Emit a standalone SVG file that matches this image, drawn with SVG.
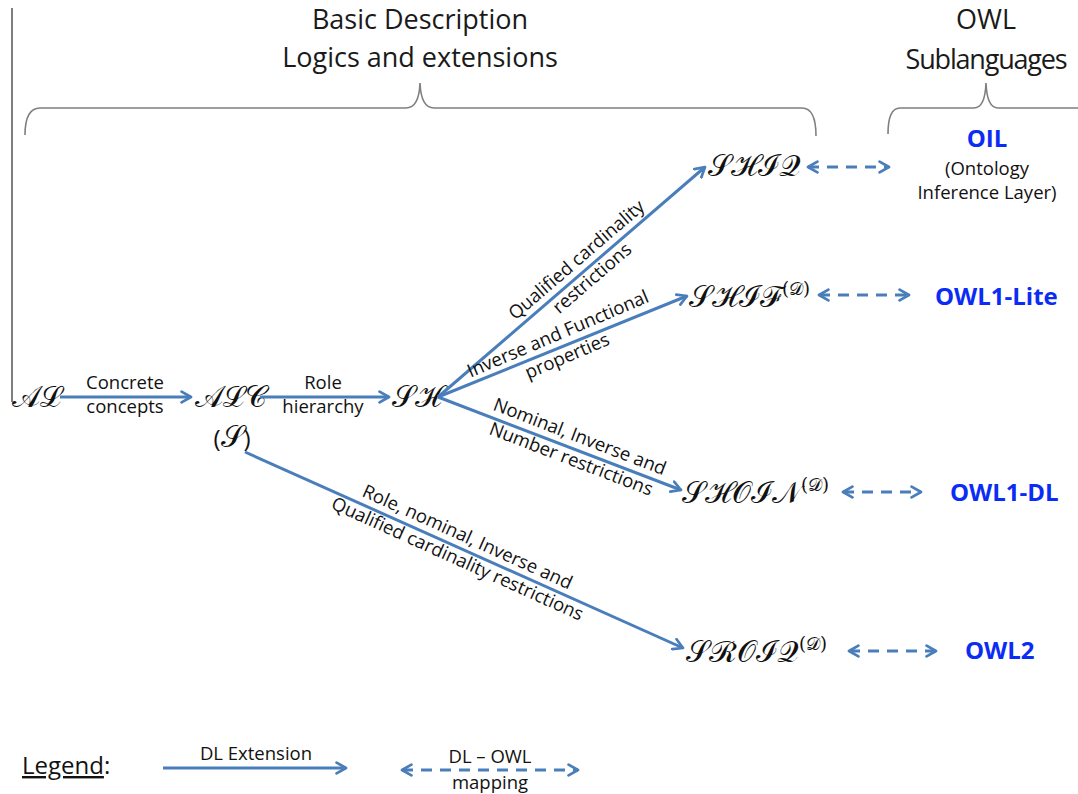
<svg xmlns="http://www.w3.org/2000/svg" width="1078" height="794" viewBox="0 0 1078 794">
  <style>
    .title { font-family: "Open Sans", "Liberation Sans", sans-serif; font-size: 27px; fill: #1a1a1a; text-anchor: middle; }
    .lbl { font-family: "Open Sans", "Liberation Sans", sans-serif; font-size: 18.5px; fill: #111; text-anchor: middle; }
    .owl { font-family: "Open Sans", "Liberation Sans", sans-serif; font-weight: bold; font-size: 24px; fill: #0a2cf5; }
    .dl { font-family: "DejaVu Serif", "Liberation Serif", serif; font-size: 30px; fill: #111; }
    .sup { font-size: 18px; }
    .brace { fill: none; stroke: #7f7f7f; stroke-width: 1.6; }
    .ext { fill: none; stroke: #4a7ebb; stroke-width: 3; marker-end: url(#head); }
    .map { fill: none; stroke: #4a7ebb; stroke-width: 3; stroke-dasharray: 11 8; marker-start: url(#tail); marker-end: url(#head); }
  </style>
  <defs>
    <marker id="head" viewBox="0 0 10 10" refX="8" refY="5" markerWidth="4.5" markerHeight="4.5" orient="auto" markerUnits="strokeWidth">
      <path d="M1,1 L8,5 L1,9" fill="none" stroke="#4a7ebb" stroke-width="2" stroke-linecap="round" stroke-linejoin="round"/>
    </marker>
    <marker id="tail" viewBox="0 0 10 10" refX="2" refY="5" markerWidth="4.5" markerHeight="4.5" orient="auto" markerUnits="strokeWidth">
      <path d="M9,1 L2,5 L9,9" fill="none" stroke="#4a7ebb" stroke-width="2" stroke-linecap="round" stroke-linejoin="round"/>
    </marker>
  </defs>

  <!-- headings and braces -->
  <g id="headings">
    <line x1="12" y1="8" x2="12" y2="402" stroke="#7f7f7f" stroke-width="2"/>
    <text class="title" x="420" y="29">Basic Description</text>
    <text class="title" x="420" y="67">Logics and extensions</text>
    <text class="title" x="986" y="29">OWL</text>
    <text class="title" x="986" y="69" letter-spacing="-1.2">Sublanguages</text>
    <path class="brace" d="M25,135 Q25,108 40,108 L406,108 Q419,108 420,83 Q421,108 434,108 L802,108 Q816,108 816,136"/>
    <path class="brace" d="M888,134 Q888,108 900,108 L974,108 Q985,108 986,83 Q987,108 998,108 L1078,108"/>
  </g>

  <!-- description logic nodes -->
  <g id="AL"><text class="dl" x="12" y="407">𝒜ℒ</text></g>
  <g id="ALC">
    <text class="dl" x="195" y="407">𝒜ℒ𝒞</text>
    <text class="dl" x="232" y="447" text-anchor="middle" font-size="26"><tspan font-family="Open Sans, sans-serif" font-size="24">(</tspan>𝒮<tspan font-family="Open Sans, sans-serif" font-size="24">)</tspan></text>
  </g>
  <g id="SH"><text class="dl" x="392" y="407">𝒮ℋ</text></g>
  <g id="SHIQ"><text class="dl" x="708" y="176">𝒮ℋℐ𝒬</text></g>
  <g id="SHIF"><text class="dl" x="689" y="307">𝒮ℋℐℱ<tspan class="sup" dy="-12">(𝒟)</tspan></text></g>
  <g id="SHOIN"><text class="dl" x="682" y="503">𝒮ℋ𝒪ℐ𝒩<tspan class="sup" dy="-12">(𝒟)</tspan></text></g>
  <g id="SROIQ"><text class="dl" x="686" y="662">𝒮ℛ𝒪ℐ𝒬<tspan class="sup" dy="-12">(𝒟)</tspan></text></g>

  <!-- OWL sublanguage nodes -->
  <g id="OIL">
    <text class="owl" x="987" y="147" text-anchor="middle">OIL</text>
    <text class="lbl" x="987" y="175">(Ontology</text>
    <text class="lbl" x="987" y="199">Inference Layer)</text>
  </g>
  <g id="OWL1-Lite"><text class="owl" x="935" y="305">OWL1-Lite</text></g>
  <g id="OWL1-DL"><text class="owl" x="950" y="501">OWL1-DL</text></g>
  <g id="OWL2"><text class="owl" x="965" y="659">OWL2</text></g>

  <!-- connectors -->
  <g id="connectors">
    <line class="ext" x1="60" y1="397" x2="191" y2="397"/>
    <line class="ext" x1="260" y1="397" x2="389" y2="397"/>
    <line class="ext" x1="438" y1="397" x2="705" y2="167"/>
    <line class="ext" x1="438" y1="397" x2="687" y2="296"/>
    <line class="ext" x1="438" y1="397" x2="681" y2="490"/>
    <line class="ext" x1="245" y1="452" x2="683" y2="648"/>

    <line class="map" x1="808" y1="167" x2="889" y2="167"/>
    <line class="map" x1="819" y1="295" x2="909" y2="295"/>
    <line class="map" x1="843" y1="492" x2="921" y2="492"/>
    <line class="map" x1="849" y1="651" x2="936" y2="651"/>

    <text class="lbl" x="125" y="389">Concrete</text>
    <text class="lbl" x="125" y="413">concepts</text>
    <text class="lbl" x="323" y="389">Role</text>
    <text class="lbl" x="323" y="413">hierarchy</text>

    <g transform="translate(585,270) rotate(-40.7)">
      <text class="lbl" x="0" y="-7">Qualified cardinality</text>
      <text class="lbl" x="0" y="17">restrictions</text>
    </g>
    <g transform="translate(563,346) rotate(-23)">
      <text class="lbl" x="0" y="-7">Inverse and Functional</text>
      <text class="lbl" x="0" y="17">properties</text>
    </g>
    <g transform="translate(575,449) rotate(21)">
      <text class="lbl" x="0" y="-7">Nominal, Inverse and</text>
      <text class="lbl" x="0" y="17">Number restrictions</text>
    </g>
    <g transform="translate(462,549) rotate(24.3)">
      <text class="lbl" x="0" y="-7">Role, nominal, Inverse and</text>
      <text class="lbl" x="0" y="17">Qualified cardinality restrictions</text>
    </g>
  </g>

  <!-- legend -->
  <g id="legend">
    <text x="22" y="774" font-family="Open Sans, Liberation Sans, sans-serif" font-size="24" fill="#111"><tspan text-decoration="underline">Legend</tspan>:</text>
    <line class="ext" x1="163" y1="768" x2="346" y2="768"/>
    <text class="lbl" x="256" y="760">DL Extension</text>
    <line class="map" x1="402" y1="770" x2="578" y2="770"/>
    <text class="lbl" x="490" y="763">DL – OWL</text>
    <text class="lbl" x="490" y="789">mapping</text>
  </g>
</svg>
